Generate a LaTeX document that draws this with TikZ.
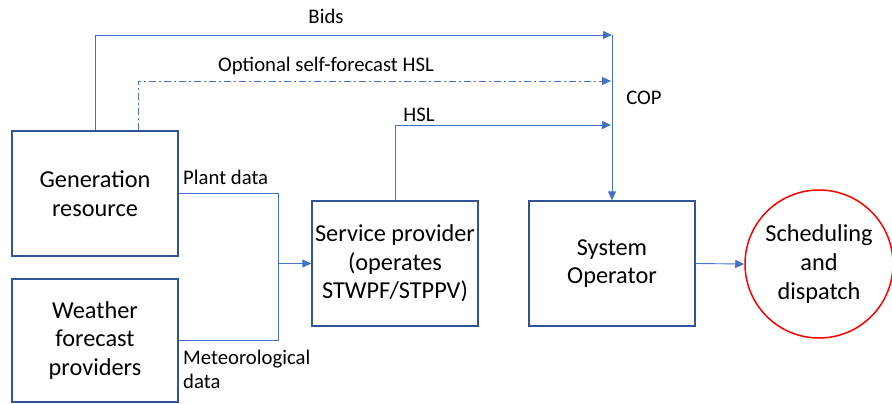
\documentclass[tikz,border=0pt]{standalone}
\usepackage{fontspec}
\setmainfont{Carlito}
\usetikzlibrary{arrows.meta}
\definecolor{boxblue}{RGB}{47,85,151}
\definecolor{lineblue}{RGB}{68,114,196}
\begin{document}
\begin{tikzpicture}[x=1bp,y=-1bp]
			\tikzstyle{every node}+=[inner sep=1bp]
			\tikzstyle{block}=[draw=boxblue, line width=1.3bp, minimum width=166bp, minimum height=125bp, align=center, font=\fontsize{24.4}{28.8}\selectfont]
			\tikzstyle{flow}=[draw=lineblue, line width=0.9bp, -{Triangle[length=9bp,width=8bp]}]
			\tikzstyle{lbl}=[font=\fontsize{20.8}{24}\selectfont]
			\useasboundingbox (0,0) rectangle (892,403);
			\node [block] (gen) at (95,193.5) {Generation\\resource};
			\node [block, minimum height=123bp] (wea) at (95,340.5) {Weather\\forecast\\providers};
			\node [block] (sp) at (395,263.5) {Service provider\\(operates\\STWPF/STPPV)};
			\node [block] (so) at (612,263.5) {System\\Operator};
			\node [circle, draw=red, line width=1.5bp, minimum size=148bp, align=center, font=\fontsize{24.4}{28.8}\selectfont] (sd) at (819,264) {Scheduling\\and\\dispatch};
			\coordinate (cop) at (612,35);
			\coordinate (join) at (278,263.5);
			\draw [flow] (gen.north) |- (cop);
			\draw [flow, dash pattern=on 7bp off 3bp on 2bp off 3bp] ([xshift=43bp]gen.north) |- (611,81);
			\draw [flow] (sp.north) |- (611,125);
			\draw [flow] (cop) -- (so.north);
			\draw [draw=lineblue, line width=0.9bp] (gen.east) -| (join);
			\draw [draw=lineblue, line width=0.9bp] (wea.east) -| (join);
			\draw [flow] (join) -- (sp.west);
			\draw [flow] (so.east) -- (sd.west);
			\node [lbl] (bids) at (326,16) {Bids};
			\node [lbl] (opt) at (326,66) {Optional self-forecast HSL};
			\node [lbl] (hsl) at (419,115) {HSL};
			\node [lbl] (coplbl) at (644,98) {COP};
			\node [lbl, anchor=west] (plant) at (182,177) {Plant data};
			\node [lbl, anchor=west, align=left] (met) at (182,369) {Meteorological\\data};
		\end{tikzpicture}
\end{document}
